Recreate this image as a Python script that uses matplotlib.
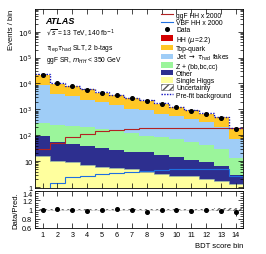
import numpy as np
import matplotlib
matplotlib.use('Agg')
import matplotlib.pyplot as plt
from matplotlib.patches import Patch
from matplotlib.lines import Line2D
from matplotlib.ticker import FixedLocator, LogLocator, NullFormatter, MultipleLocator

# BDT score bins
bins = np.arange(1, 15)
edges = np.arange(0.5, 15.0, 1.0)

# total post-fit background per bin (top of stack)
total = [22000, 9800, 8000, 5900, 4400, 3500, 2750, 2200, 1650, 1230, 910, 680, 500, 180]
# cumulative stack tops
top_jet = [8500, 4000, 3300, 2400, 1900, 1500, 1050, 910, 680, 580, 435, 320, 205, 72]
top_zhf = [295, 240, 225, 205, 177, 152, 124, 97, 84, 72, 54, 42, 30, 13]
top_other = [97, 54, 46, 38, 32, 28, 23, 22, 17, 14, 11.4, 9, 6.7, 2.9]
top_single = [15.5, 10.5, 9, 7.3, 6.1, 5.6, 5, 3.7, 3.2, 2.7, 2.6, 2.0, 1.75, 1.3]

ggf_hh = [29, 50, 85, 110, 145, 162, 177, 187, 187, 190, 190, 195, 195, 195]
vbf_hh = [0.8, 1.5, 2.4, 2.7, 3.2, 3.5, 3.7, 4.3, 4.7, 5.0, 5.0, 5.0, 5.0, 2.6]

ratio = [1.0, 1.02, 0.99, 0.97, 1.0, 1.01, 0.99, 0.95, 0.99, 1.0, 0.97, 0.98, 0.96, 0.94]
unc_rel = [0.01, 0.01, 0.01, 0.012, 0.012, 0.012, 0.013, 0.014, 0.015, 0.016, 0.018, 0.02, 0.022, 0.035]
prefit_scale = [1.03, 1.03, 1.03, 1.03, 1.03, 1.03, 1.03, 1.03, 1.03, 1.03, 1.03, 1.03, 1.03, 1.03]

total = np.array(total, float)
data = total * np.array(ratio)
data_err = np.sqrt(data)
prefit = total * np.array(prefit_scale)
unc = total * np.array(unc_rel)

c_top = '#ffc726'
c_jet = '#9fcdf7'
c_zhf = '#9bf59b'
c_other = '#2d2f8f'
c_single = '#ffff9e'
c_hh = '#d40000'

plt.rcParams['font.family'] = ['Liberation Sans', 'DejaVu Sans']
plt.rcParams['mathtext.fontset'] = 'dejavusans'

fig = plt.figure(figsize=(2.66, 2.55), dpi=100)
ax = fig.add_axes([0.132, 0.259, 0.783, 0.702])
rax = fig.add_axes([0.132, 0.102, 0.783, 0.145], sharex=ax)

base = 0.1
ax.stairs(top_single, edges, baseline=base, fill=True, color=c_single)
ax.stairs(top_other, edges, baseline=top_single, fill=True, color=c_other)
ax.stairs(top_zhf, edges, baseline=top_other, fill=True, color=c_zhf)
ax.stairs(top_jet, edges, baseline=top_zhf, fill=True, color=c_jet)
ax.stairs(total, edges, baseline=top_jet, fill=True, color=c_top)
ax.stairs(top_single, edges, baseline=None, color='#8aa6a6', lw=0.6)

ax.stairs(total + unc, edges, baseline=total - unc, fill=True, facecolor='none',
          edgecolor='#555555', hatch='/////', lw=0)
ax.stairs(ggf_hh, edges, baseline=None, color='#b22222', lw=0.8)
ax.stairs(vbf_hh, edges, baseline=None, color='#1f6fe0', lw=0.8)
ax.stairs(prefit, edges, baseline=None, color='#1010c0', lw=1.0, ls=(0, (1, 1)))
ax.errorbar(bins, data, yerr=data_err, fmt='o', color='k', ms=2.6, lw=0.6, capsize=0)

ax.set_yscale('log')
ax.set_ylim(0.93, 7.5e6)
ax.set_xlim(0.5, 14.5)
ax.yaxis.set_major_locator(FixedLocator([1, 10, 1e2, 1e3, 1e4, 1e5, 1e6]))
ax.set_yticklabels(['1', '10', r'$10^2$', r'$10^3$', r'$10^4$', r'$10^5$', r'$10^6$'])
ax.yaxis.set_minor_locator(LogLocator(base=10, subs=np.arange(2, 10), numticks=20))
ax.yaxis.set_minor_formatter(NullFormatter())
ax.set_ylabel('Events / bin', fontsize=5.5, loc='top', labelpad=2)

for a in (ax, rax):
    a.tick_params(direction='in', which='both', top=True, right=True, labelsize=5.2, pad=2)
    a.tick_params(which='major', length=3.5, width=0.5)
    a.tick_params(which='minor', length=2, width=0.5)
    a.set_xticks(bins)
    for s in a.spines.values():
        s.set_linewidth(0.6)
plt.setp(ax.get_xticklabels(), visible=False)

# ratio panel
r_lo = 1 - np.array(unc_rel)
r_hi = 1 + np.array(unc_rel)
rax.stairs(r_hi, edges, baseline=r_lo, fill=True, facecolor='none',
           edgecolor='#666666', hatch='//////', lw=0)
rax.axhline(1, color='#888888', lw=0.5, ls=(0, (1, 1)))
rax.errorbar(bins, ratio, yerr=np.sqrt(data) / total, fmt='o', color='k', ms=2.6, lw=0.6, capsize=0)
rax.set_ylim(0.6, 1.4)
rax.set_yticks([0.6, 0.8, 1.0, 1.2, 1.4])
rax.set_yticklabels(['0.6', '0.8', '1', '1.2', '1.4'])
rax.yaxis.set_minor_locator(MultipleLocator(0.05))
rax.set_xticklabels([str(b) for b in bins])
rax.set_ylabel('Data/Pred.', fontsize=5.5, labelpad=2)
rax.set_xlabel('BDT score bin', fontsize=5.5, loc='right', labelpad=3)
rax.get_yticklabels()[-1].set_va('top')

ax.text(0.05, 0.935, 'ATLAS', transform=ax.transAxes, fontsize=6.5,
        fontweight='bold', fontstyle='italic', va='center')
ax.text(0.05, 0.865, r'$\sqrt{s}$ = 13 TeV, 140 fb$^{-1}$', transform=ax.transAxes,
        fontsize=4.8, va='center')
ax.text(0.05, 0.78, r'$\tau_{\rm lep}\tau_{\rm had}$ SLT, 2 b-tags', transform=ax.transAxes,
        fontsize=4.8, va='center')
ax.text(0.05, 0.72, r'ggF SR, $m_{HH}$ < 350 GeV', transform=ax.transAxes,
        fontsize=4.8, va='center')

handles = [
    Line2D([], [], color='#b22222', lw=0.8),
    Line2D([], [], color='#1f6fe0', lw=0.8),
    Line2D([], [], color='k', marker='o', ms=2.6, ls='none'),
    Patch(facecolor=c_hh),
    Patch(facecolor=c_top),
    Patch(facecolor=c_jet),
    Patch(facecolor=c_zhf),
    Patch(facecolor=c_other),
    Patch(facecolor=c_single),
    Patch(facecolor='white', edgecolor='#555555', hatch='/////', lw=0.4),
    Line2D([], [], color='#1010c0', lw=1.0, ls=(0, (1, 1))),
]
labels = ['ggF HH x 2000', 'VBF HH x 2000', 'Data', r'HH ($\mu$=2.2)', 'Top-quark',
          r'Jet $\rightarrow$ $\tau_{\rm had}$ fakes', 'Z + (bb,bc,cc)', 'Other',
          'Single Higgs', 'Uncertainty', 'Pre-fit background']
ax.legend(handles, labels, loc='upper left', bbox_to_anchor=(0.605, 0.985), frameon=False,
          fontsize=4.9, handlelength=1.7, handleheight=0.9, handletextpad=0.5,
          labelspacing=0.02, borderaxespad=0, borderpad=0)

fig.savefig('out.png', dpi=100)
